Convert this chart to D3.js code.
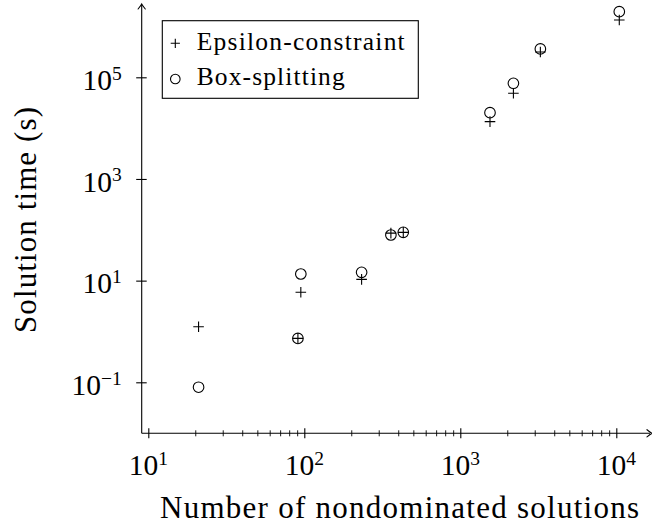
<!DOCTYPE html>
<html>
<head>
<meta charset="utf-8">
<script src="https://cdn.jsdelivr.net/npm/d3@7"></script>
<style>
  html, body { margin: 0; padding: 0; background: #fff; }
  svg { display: block; }
  svg text { font-family: "Liberation Serif", "DejaVu Serif", "Noto Serif", serif !important; fill: #000; }
</style>
</head>
<body>
<svg id="chart" width="652" height="524"></svg>
<script>
// ---- data ----
const nondominated = [21, 91, 95, 233, 359, 431, 1550, 2190, 3260, 10450];
const epsilonTime = [1.24, 0.73, 5.9, 10.6, 86, 89, 13400, 48500, 315000, 1340000];
const boxTime = [0.08, 0.73, 13.5, 14.6, 79, 89, 20100, 76300, 361000, 1950000];
const xTickExps = [1, 2, 3, 4];
const yTickExps = [-1, 1, 3, 5];
const seriesNames = ["Epsilon-constraint", "Box-splitting"];
const xTitle = "Number of nondominated solutions";
const yTitle = "Solution time (s)";

// ---- layout ----
const FONT = '"Liberation Serif", "DejaVu Serif", serif';
const svg = d3.select("#chart");
const x = d3.scaleLog().domain([10, 1e4]).range([148.3, 616.3]);
const y = d3.scaleLog().domain([0.1, 1e5]).range([382.3, 77.3]);
const axisX0 = 141.7, axisY0 = 433.3;
const xEnd = 650, yTop = 5;
const sw = 1.1;

const minorX = [];
[10, 100, 1000].forEach(d => { for (let k = 2; k <= 9; k++) minorX.push(d * k); });

svg.append("line").attr("x1", axisX0).attr("x2", xEnd).attr("y1", axisY0).attr("y2", axisY0)
  .attr("stroke", "#000").attr("stroke-width", sw);
svg.append("line").attr("x1", axisX0).attr("x2", axisX0).attr("y1", axisY0).attr("y2", yTop)
  .attr("stroke", "#000").attr("stroke-width", sw);

function arrow(tx, ty, angle) {
  svg.append("path")
    .attr("d", "M-5,-3.6 Q-1.5,-0.8 0,0 Q-1.5,0.8 -5,3.6")
    .attr("fill", "none").attr("stroke", "#000").attr("stroke-width", sw)
    .attr("stroke-linecap", "round")
    .attr("transform", `translate(${tx},${ty}) rotate(${angle})`);
}
arrow(axisX0, yTop - 1, -90);
arrow(xEnd + 2, axisY0, 0);

const gx = svg.append("g").attr("transform", `translate(0,${axisY0})`)
  .call(d3.axisBottom(x).tickValues(xTickExps.map(e => Math.pow(10, e))).tickFormat("").tickSizeOuter(0));
gx.select(".domain").remove();
gx.selectAll(".tick line").attr("y1", -5).attr("y2", 5).attr("stroke-width", sw);
const gxm = svg.append("g").attr("transform", `translate(0,${axisY0})`)
  .call(d3.axisBottom(x).tickValues(minorX).tickFormat("").tickSizeOuter(0));
gxm.select(".domain").remove();
gxm.selectAll(".tick line").attr("y1", -3).attr("y2", 3).attr("stroke-width", 0.9);

const gy = svg.append("g").attr("transform", `translate(${axisX0},0)`)
  .call(d3.axisLeft(y).tickValues(yTickExps.map(e => Math.pow(10, e))).tickFormat("").tickSizeOuter(0));
gy.select(".domain").remove();
gy.selectAll(".tick line").attr("x1", -5.5).attr("x2", 5).attr("stroke-width", sw);

function txt(sel) { return sel.attr("font-family", FONT).style("font-family", FONT); }

function powLabel(sel, exp) {
  sel.append("tspan").text("10");
  sel.append("tspan").attr("dy", -10.5).style("font-size", "19.5px")
    .text(exp < 0 ? "\u2212" + Math.abs(exp) : String(exp));
}
xTickExps.forEach(e => {
  const t = txt(svg.append("text")).attr("x", x(Math.pow(10, e))).attr("y", 475)
    .attr("text-anchor", "middle").style("font-size", "29.5px");
  powLabel(t, e);
});
yTickExps.forEach(e => {
  const t = txt(svg.append("text")).attr("x", 121.7).attr("y", y(Math.pow(10, e)) + 12.7)
    .attr("text-anchor", "end").style("font-size", "29.5px");
  powLabel(t, e);
});

txt(svg.append("text")).attr("x", 160).attr("y", 517.7).style("font-size", "31px")
  .attr("textLength", 479).attr("lengthAdjust", "spacing").text(xTitle);
txt(svg.append("text")).attr("transform", "translate(36,220) rotate(-90)").attr("text-anchor", "middle")
  .style("font-size", "31px").attr("textLength", 226).attr("lengthAdjust", "spacing").text(yTitle);

function plus(g, cx, cy, r) {
  g.append("path").attr("d", `M${cx - r},${cy}H${cx + r}M${cx},${cy - r}V${cy + r}`)
    .attr("stroke", "#000").attr("stroke-width", sw).attr("fill", "none");
}
function ring(g, cx, cy, r) {
  g.append("circle").attr("cx", cx).attr("cy", cy).attr("r", r)
    .attr("stroke", "#000").attr("stroke-width", sw).attr("fill", "none");
}
const gm = svg.append("g");
nondominated.forEach((n, i) => plus(gm, x(n), y(epsilonTime[i]), 5.3));
nondominated.forEach((n, i) => ring(gm, x(n), y(boxTime[i]), 5.3));

const lg = svg.append("g");
lg.append("rect").attr("x", 162.3).attr("y", 20.7).attr("width", 256).attr("height", 77.6)
  .attr("fill", "#fff").attr("stroke", "#000").attr("stroke-width", sw);
plus(lg, 175.3, 43.3, 4.6);
ring(lg, 175.3, 79, 4.8);
txt(lg.append("text")).attr("x", 196.7).attr("y", 50).style("font-size", "25.5px")
  .attr("textLength", 208).attr("lengthAdjust", "spacing").text(seriesNames[0]);
txt(lg.append("text")).attr("x", 196.7).attr("y", 85).style("font-size", "25.5px")
  .attr("textLength", 148).attr("lengthAdjust", "spacing").text(seriesNames[1]);
</script>
</body>
</html>
